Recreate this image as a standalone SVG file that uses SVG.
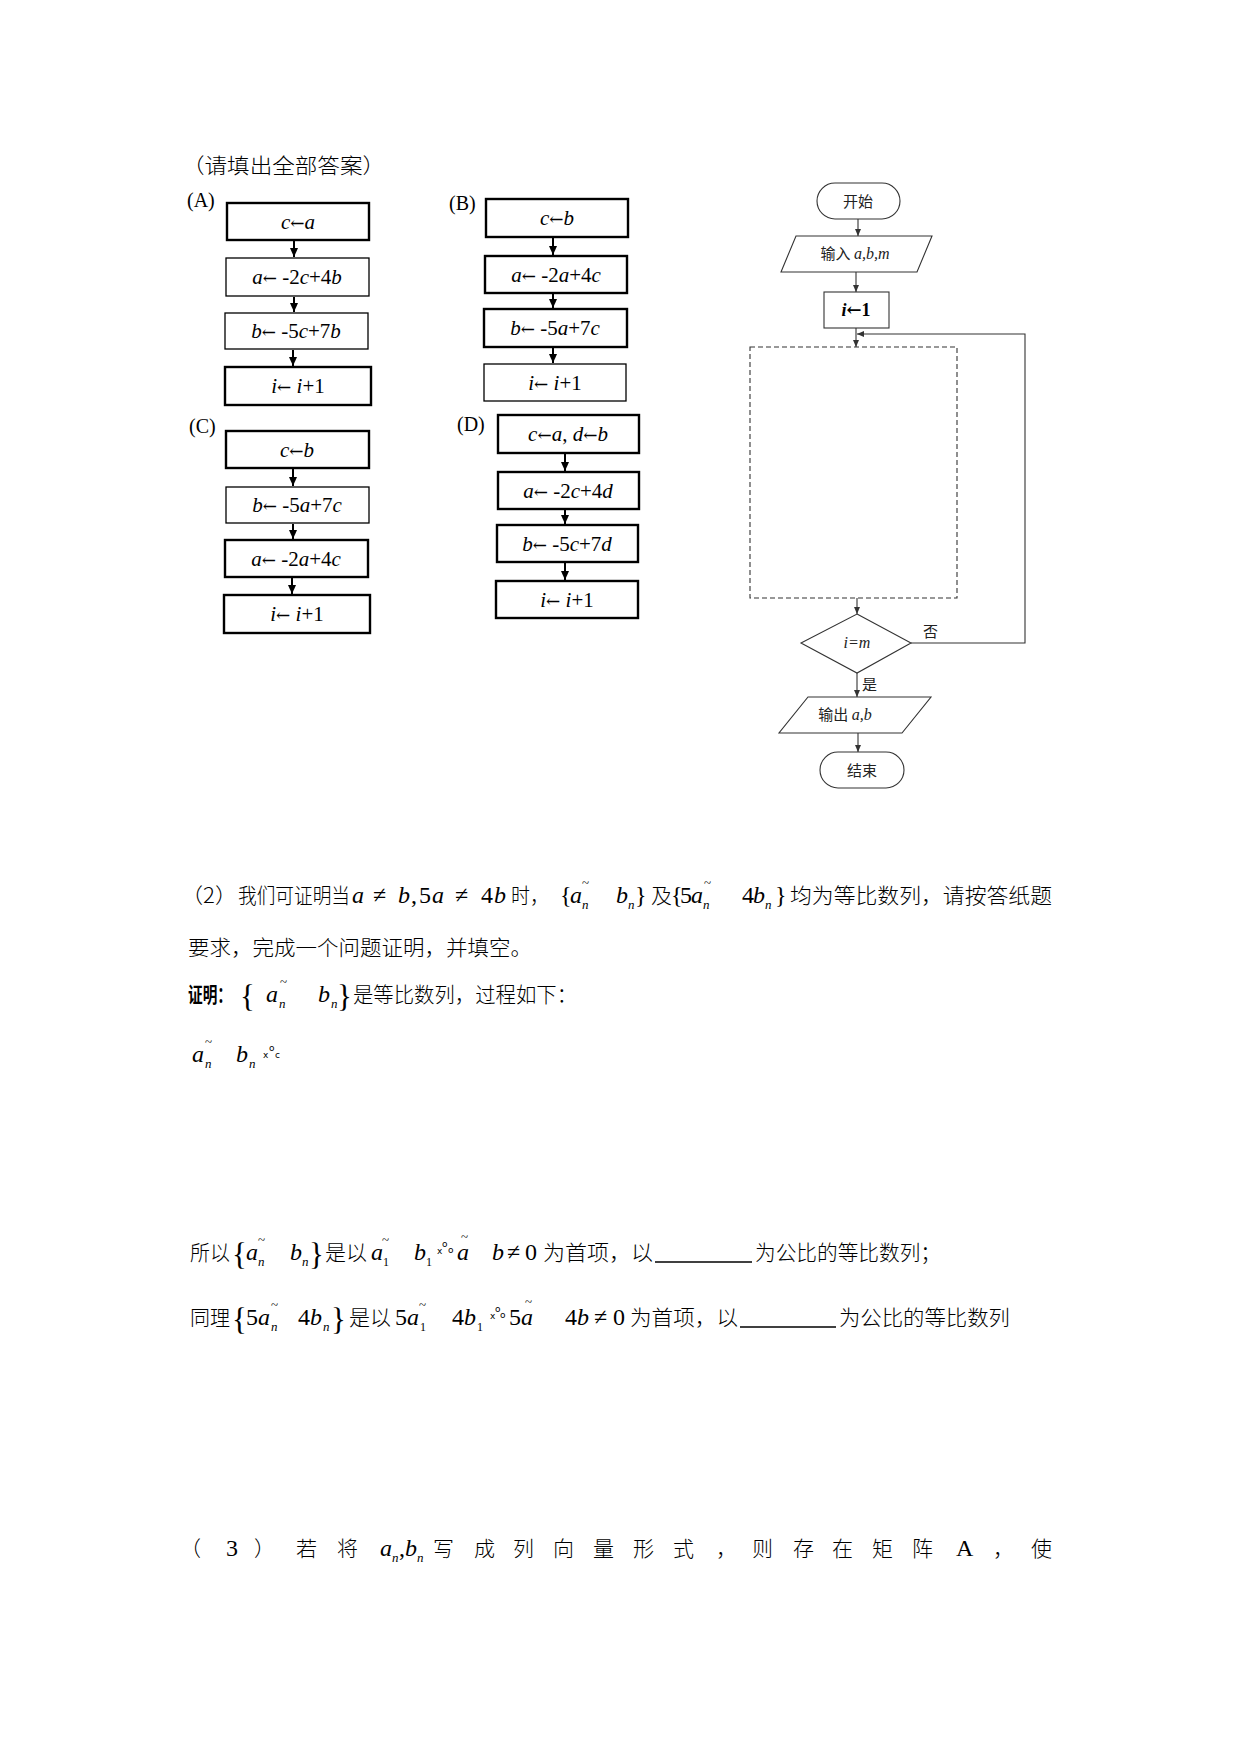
<svg xmlns="http://www.w3.org/2000/svg" width="1241" height="1754" viewBox="0 0 1241 1754">
<defs>
<style>
.cn{font-family:"Noto Sans CJK SC","Noto Sans",sans-serif;font-size:21px;font-weight:300;fill:#000}
.cb{font-family:"Noto Sans CJK SC",sans-serif;font-size:21px;font-weight:700;fill:#000}
.m{font-family:"Liberation Serif",serif;font-size:24px;fill:#000}
.i{font-style:italic}
.sub{font-family:"Liberation Serif",serif;font-size:13px;font-style:italic}
.sb1{font-family:"Liberation Serif",serif;font-size:12px}
.tl{font-family:"Liberation Serif",serif;font-size:13px}
.br{font-family:"Liberation Serif",serif;font-size:31px}
.tiny{font-family:"DejaVu Sans",sans-serif;font-size:9px}
.lbl{font-family:"Liberation Serif",serif;font-size:20px}
.bx{fill:#fff;stroke:#000}
.thk{stroke-width:2.4}
.thn{stroke-width:1.3}
.bt{font-family:"Liberation Serif","DejaVu Serif",serif;font-size:21px;text-anchor:middle}
.ar{font-family:"DejaVu Serif",serif;font-style:normal;font-size:17px}
.fl{fill:#fff;stroke:#333;stroke-width:1.1}
.fc{font-family:"Noto Sans CJK SC",sans-serif;font-size:15px;fill:#222}
.fm{font-family:"Liberation Serif",serif;font-size:16px;font-style:italic;fill:#222}
.ca{stroke:#000;stroke-width:2;fill:none;marker-end:url(#ah)}
.cf{stroke:#333;stroke-width:1.1;fill:none;marker-end:url(#ah2)}
</style>
<marker id="ah" markerUnits="userSpaceOnUse" markerWidth="10" markerHeight="10" refX="9" refY="5" orient="auto"><path d="M0,1 L9,5 L0,9 z" fill="#000"/></marker>
<marker id="ah2" markerUnits="userSpaceOnUse" markerWidth="8" markerHeight="8" refX="7" refY="4" orient="auto"><path d="M0,1 L7,4 L0,7 z" fill="#333"/></marker>
</defs>
<rect width="1241" height="1754" fill="#fff"/>

<text class="cn" x="182" y="173" font-size="20" textLength="203" lengthAdjust="spacingAndGlyphs">（请填出全部答案）</text>

<!-- option labels -->
<text class="lbl" x="187" y="207">(A)</text>
<text class="lbl" x="449" y="210">(B)</text>
<text class="lbl" x="189" y="433">(C)</text>
<text class="lbl" x="457" y="431">(D)</text>

<!-- A -->
<g id="A1"><rect class="bx thk" x="227" y="203" width="142" height="37"/><text class="bt" x="298" y="229"><tspan class="i">c</tspan><tspan class="ar">←</tspan><tspan class="i">a</tspan></text></g>
<g id="A2"><rect class="bx thn" x="226" y="258" width="143" height="38"/><text class="bt" x="297" y="284"><tspan class="i">a</tspan><tspan class="ar">←</tspan> -2<tspan class="i">c</tspan>+4<tspan class="i">b</tspan></text></g>
<g id="A3"><rect class="bx thn" x="225" y="313" width="143" height="36"/><text class="bt" x="296" y="338"><tspan class="i">b</tspan><tspan class="ar">←</tspan> -5<tspan class="i">c</tspan>+7<tspan class="i">b</tspan></text></g>
<g id="A4"><rect class="bx thk" x="225" y="367" width="146" height="38"/><text class="bt" x="298" y="393"><tspan class="i">i</tspan><tspan class="ar">←</tspan> <tspan class="i">i</tspan>+1</text></g>
<!-- B -->
<g id="B1"><rect class="bx thk" x="486" y="199" width="142" height="38"/><text class="bt" x="557" y="225"><tspan class="i">c</tspan><tspan class="ar">←</tspan><tspan class="i">b</tspan></text></g>
<g id="B2"><rect class="bx thk" x="485" y="256" width="142" height="37"/><text class="bt" x="556" y="282"><tspan class="i">a</tspan><tspan class="ar">←</tspan> -2<tspan class="i">a</tspan>+4<tspan class="i">c</tspan></text></g>
<g id="B3"><rect class="bx thk" x="484" y="309" width="143" height="38"/><text class="bt" x="555" y="335"><tspan class="i">b</tspan><tspan class="ar">←</tspan> -5<tspan class="i">a</tspan>+7<tspan class="i">c</tspan></text></g>
<g id="B4"><rect class="bx thn" x="484" y="364" width="142" height="37"/><text class="bt" x="555" y="390"><tspan class="i">i</tspan><tspan class="ar">←</tspan> <tspan class="i">i</tspan>+1</text></g>
<!-- C -->
<g id="C1"><rect class="bx thk" x="226" y="431" width="143" height="37"/><text class="bt" x="297" y="457"><tspan class="i">c</tspan><tspan class="ar">←</tspan><tspan class="i">b</tspan></text></g>
<g id="C2"><rect class="bx thn" x="226" y="487" width="143" height="36"/><text class="bt" x="297" y="512"><tspan class="i">b</tspan><tspan class="ar">←</tspan> -5<tspan class="i">a</tspan>+7<tspan class="i">c</tspan></text></g>
<g id="C3"><rect class="bx thk" x="225" y="540" width="143" height="37"/><text class="bt" x="296" y="566"><tspan class="i">a</tspan><tspan class="ar">←</tspan> -2<tspan class="i">a</tspan>+4<tspan class="i">c</tspan></text></g>
<g id="C4"><rect class="bx thk" x="224" y="595" width="146" height="38"/><text class="bt" x="297" y="621"><tspan class="i">i</tspan><tspan class="ar">←</tspan> <tspan class="i">i</tspan>+1</text></g>
<!-- D -->
<g id="D1"><rect class="bx thk" x="498" y="415" width="141" height="38"/><text class="bt" x="568" y="441"><tspan class="i">c</tspan><tspan class="ar">←</tspan><tspan class="i">a</tspan>, <tspan class="i">d</tspan><tspan class="ar">←</tspan><tspan class="i">b</tspan></text></g>
<g id="D2"><rect class="bx thk" x="498" y="472" width="141" height="37"/><text class="bt" x="568" y="498"><tspan class="i">a</tspan><tspan class="ar">←</tspan> -2<tspan class="i">c</tspan>+4<tspan class="i">d</tspan></text></g>
<g id="D3"><rect class="bx thk" x="497" y="525" width="141" height="37"/><text class="bt" x="567" y="551"><tspan class="i">b</tspan><tspan class="ar">←</tspan> -5<tspan class="i">c</tspan>+7<tspan class="i">d</tspan></text></g>
<g id="D4"><rect class="bx thk" x="496" y="581" width="142" height="37"/><text class="bt" x="567" y="607"><tspan class="i">i</tspan><tspan class="ar">←</tspan> <tspan class="i">i</tspan>+1</text></g>

<!-- right flowchart nodes -->
<g id="start"><rect class="fl" x="817" y="183" width="83" height="36" rx="18"/><text class="fc" x="858" y="207" text-anchor="middle" font-size="16">开始</text></g>
<g id="input"><path class="fl" d="M796,236 L932,236 L917,272 L781,272 Z"/><text x="855" y="259" text-anchor="middle"><tspan class="fc" font-size="14">输入 </tspan><tspan class="fm">a,b,m</tspan></text></g>
<g id="init"><rect class="fl" x="824" y="292" width="65" height="36" stroke-width="1.5"/><text x="856" y="316" text-anchor="middle" font-family="Liberation Serif,serif" font-size="18" font-weight="700"><tspan font-style="italic">i</tspan><tspan font-family="DejaVu Serif,serif" font-size="18" font-weight="700">←</tspan>1</text></g>
<g id="body"><rect x="750" y="347" width="207" height="251" fill="none" stroke="#333" stroke-width="1.1" stroke-dasharray="5,3"/></g>
<g id="cond"><path class="fl" d="M857,614 L911,643 L857,673 L801,643 Z"/><text class="fm" x="857" y="648" text-anchor="middle">i=m</text></g>
<g id="output"><path class="fl" d="M808,697 L931,697 L902,733 L779,733 Z"/><text x="845" y="720" text-anchor="middle"><tspan class="fc" font-size="14">输出 </tspan><tspan class="fm">a,b</tspan></text></g>
<g id="end"><rect class="fl" x="820" y="752" width="84" height="36" rx="18"/><text class="fc" x="862" y="776" text-anchor="middle" font-size="16">结束</text></g>

<g id="connectors">
<line class="ca" x1="294" y1="241" x2="294" y2="257"/>
<line class="ca" x1="294" y1="297" x2="294" y2="312"/>
<line class="ca" x1="293" y1="350" x2="293" y2="366"/>
<line class="ca" x1="553" y1="238" x2="553" y2="255"/>
<line class="ca" x1="553" y1="294" x2="553" y2="308"/>
<line class="ca" x1="553" y1="348" x2="553" y2="363"/>
<line class="ca" x1="293" y1="469" x2="293" y2="486"/>
<line class="ca" x1="293" y1="524" x2="293" y2="539"/>
<line class="ca" x1="292" y1="578" x2="292" y2="594"/>
<line class="ca" x1="565" y1="454" x2="565" y2="471"/>
<line class="ca" x1="565" y1="510" x2="565" y2="524"/>
<line class="ca" x1="565" y1="563" x2="565" y2="580"/>
<line class="cf" x1="858" y1="219" x2="858" y2="236"/>
<line class="cf" x1="856" y1="272" x2="856" y2="292"/>
<line class="cf" x1="856" y1="328" x2="856" y2="347"/>
<polyline class="cf" points="911,643 1025,643 1025,334 857,334"/>
<line class="cf" x1="857" y1="598" x2="857" y2="614"/>
<line class="cf" x1="857" y1="673" x2="857" y2="697"/>
<line class="cf" x1="858" y1="733" x2="858" y2="752"/>
<text class="fc" x="923" y="637">否</text>
<text class="fc" x="862" y="690" font-size="14">是</text>
</g>

<!-- Part (2) -->
<text class="cn" x="181" y="903" textLength="56" lengthAdjust="spacingAndGlyphs">（2）</text>
<text class="cn" x="238" y="903" textLength="112" lengthAdjust="spacingAndGlyphs">我们可证明当</text>
<text class="m i" x="352" y="903" font-size="26">a</text><text class="m" x="373" y="903" font-size="26">≠</text><text class="m i" x="398" y="903" font-size="26">b</text><text class="m" x="411" y="903" font-size="26">,</text>
<text class="m" x="419" y="903" font-size="26">5</text><text class="m i" x="432" y="903" font-size="26">a</text><text class="m" x="455" y="903" font-size="26">≠</text><text class="m" x="481" y="903" font-size="26">4</text><text class="m i" x="494" y="903" font-size="26">b</text>
<text class="cn" x="511" y="903" textLength="38" lengthAdjust="spacingAndGlyphs">时，</text>
<text class="m" x="560" y="903">{</text>
<text class="m i" x="570" y="903">a</text><text class="sub" x="582" y="909">n</text><text class="tl" x="582" y="887">~</text>
<text class="m i" x="616" y="903">b</text><text class="sub" x="628" y="909">n</text>
<text class="m" x="635" y="903">}</text>
<text class="cn" x="651" y="903">及</text>
<text class="m" x="671" y="903" font-size="22">{</text><text class="m" x="680" y="903" font-size="22">5</text>
<text class="m i" x="691" y="903" font-size="22">a</text><text class="sub" x="703" y="909">n</text><text class="tl" x="704" y="887">~</text>
<text class="m" x="742" y="903" font-size="22">4</text><text class="m i" x="753" y="903" font-size="22">b</text><text class="sub" x="765" y="909">n</text>
<text class="m" x="775" y="903" font-size="22">}</text>
<text class="cn" x="790" y="903" textLength="262" lengthAdjust="spacingAndGlyphs">均为等比数列，请按答纸题</text>

<text class="cn" x="188" y="955" textLength="344" lengthAdjust="spacingAndGlyphs">要求，完成一个问题证明，并填空。</text>

<text class="cb" x="188" y="1002" textLength="44" lengthAdjust="spacingAndGlyphs">证明：</text>
<text class="br" x="240" y="1007">{</text>
<text class="m i" x="266" y="1002">a</text><text class="sub" x="279" y="1008">n</text><text class="tl" x="280" y="986">~</text>
<text class="m i" x="318" y="1002">b</text><text class="sub" x="331" y="1008">n</text>
<text class="br" x="337" y="1007">}</text>
<text class="cn" x="353" y="1002" textLength="224" lengthAdjust="spacingAndGlyphs">是等比数列，过程如下：</text>

<text class="m i" x="192" y="1062">a</text><text class="tl" x="205" y="1046">~</text><text class="sub" x="205" y="1068">n</text>
<text class="m i" x="236" y="1062">b</text><text class="sub" x="249" y="1068">n</text>
<text class="tiny" x="263" y="1058">x</text><text class="tiny" x="269" y="1051">o</text><text class="tiny" x="275" y="1058">c</text>

<!-- 所以 line -->
<text class="cn" x="190" y="1260" textLength="40" lengthAdjust="spacingAndGlyphs">所以</text>
<text class="br" x="232" y="1265">{</text>
<text class="m i" x="246" y="1260">a</text><text class="tl" x="258" y="1244">~</text><text class="sub" x="258" y="1266">n</text>
<text class="m i" x="290" y="1260">b</text><text class="sub" x="302" y="1266">n</text>
<text class="br" x="309" y="1265">}</text>
<text class="cn" x="325" y="1260" textLength="42" lengthAdjust="spacingAndGlyphs">是以</text>
<text class="m i" x="371" y="1260">a</text><text class="tl" x="382" y="1244">~</text><text class="sb1" x="383" y="1266">1</text>
<text class="m i" x="414" y="1260">b</text><text class="sb1" x="426" y="1266">1</text>
<text class="tiny" x="437" y="1254">x</text><text class="tiny" x="442" y="1247">o</text><text class="tiny" x="448" y="1253">o</text>
<text class="m i" x="457" y="1260">a</text><text class="tl" x="461" y="1241">~</text>
<text class="m i" x="492" y="1260">b</text><text class="m" x="507" y="1260">≠</text><text class="m" x="525" y="1260">0</text>
<text class="cn" x="543" y="1260" textLength="110" lengthAdjust="spacingAndGlyphs">为首项，以</text>
<line x1="655" y1="1262" x2="752" y2="1262" stroke="#000" stroke-width="1.3"/>
<text class="cn" x="755" y="1260" textLength="186" lengthAdjust="spacingAndGlyphs">为公比的等比数列；</text>

<!-- 同理 line -->
<text class="cn" x="190" y="1325" textLength="40" lengthAdjust="spacingAndGlyphs">同理</text>
<text class="br" x="232" y="1330">{</text>
<text class="m" x="246" y="1325">5</text><text class="m i" x="258" y="1325">a</text><text class="tl" x="271" y="1309">~</text><text class="sub" x="271" y="1331">n</text>
<text class="m" x="298" y="1325">4</text><text class="m i" x="310" y="1325">b</text><text class="sub" x="323" y="1331">n</text>
<text class="br" x="331" y="1330">}</text>
<text class="cn" x="349" y="1325" textLength="42" lengthAdjust="spacingAndGlyphs">是以</text>
<text class="m" x="395" y="1325">5</text><text class="m i" x="407" y="1325">a</text><text class="tl" x="419" y="1309">~</text><text class="sb1" x="420" y="1331">1</text>
<text class="m" x="452" y="1325">4</text><text class="m i" x="464" y="1325">b</text><text class="sb1" x="477" y="1331">1</text>
<text class="tiny" x="490" y="1319">x</text><text class="tiny" x="495" y="1312">o</text><text class="tiny" x="500" y="1318">o</text>
<text class="m" x="509" y="1325">5</text><text class="m i" x="521" y="1325">a</text><text class="tl" x="525" y="1306">~</text>
<text class="m" x="565" y="1325">4</text><text class="m i" x="577" y="1325">b</text><text class="m" x="594" y="1325">≠</text><text class="m" x="613" y="1325">0</text>
<text class="cn" x="630" y="1325" textLength="108" lengthAdjust="spacingAndGlyphs">为首项，以</text>
<line x1="740" y1="1327" x2="836" y2="1327" stroke="#000" stroke-width="1.3"/>
<text class="cn" x="839" y="1325" textLength="171" lengthAdjust="spacingAndGlyphs">为公比的等比数列</text>

<!-- Part (3) -->
<text class="cn" x="180" y="1556">（</text>
<text class="m" x="226" y="1556" font-size="21">3</text>
<text class="cn" x="254" y="1556">）</text>
<text class="cn" x="296" y="1556">若</text>
<text class="cn" x="337" y="1556">将</text>
<text class="m i" x="380" y="1556">a</text><text class="sub" x="392" y="1562">n</text><text class="m" x="399" y="1556">,</text>
<text class="m i" x="405" y="1556">b</text><text class="sub" x="417" y="1562">n</text>
<text class="cn" x="433" y="1556">写</text>
<text class="cn" x="474" y="1556">成</text>
<text class="cn" x="513" y="1556">列</text>
<text class="cn" x="553" y="1556">向</text>
<text class="cn" x="593" y="1556">量</text>
<text class="cn" x="633" y="1556">形</text>
<text class="cn" x="673" y="1556">式</text>
<text class="cn" x="716" y="1556">，</text>
<text class="cn" x="752" y="1556">则</text>
<text class="cn" x="793" y="1556">存</text>
<text class="cn" x="832" y="1556">在</text>
<text class="cn" x="872" y="1556">矩</text>
<text class="cn" x="912" y="1556">阵</text>
<text class="m" x="956" y="1556" font-size="21">A</text>
<text class="cn" x="993" y="1556">，</text>
<text class="cn" x="1031" y="1556">使</text>
</svg>
